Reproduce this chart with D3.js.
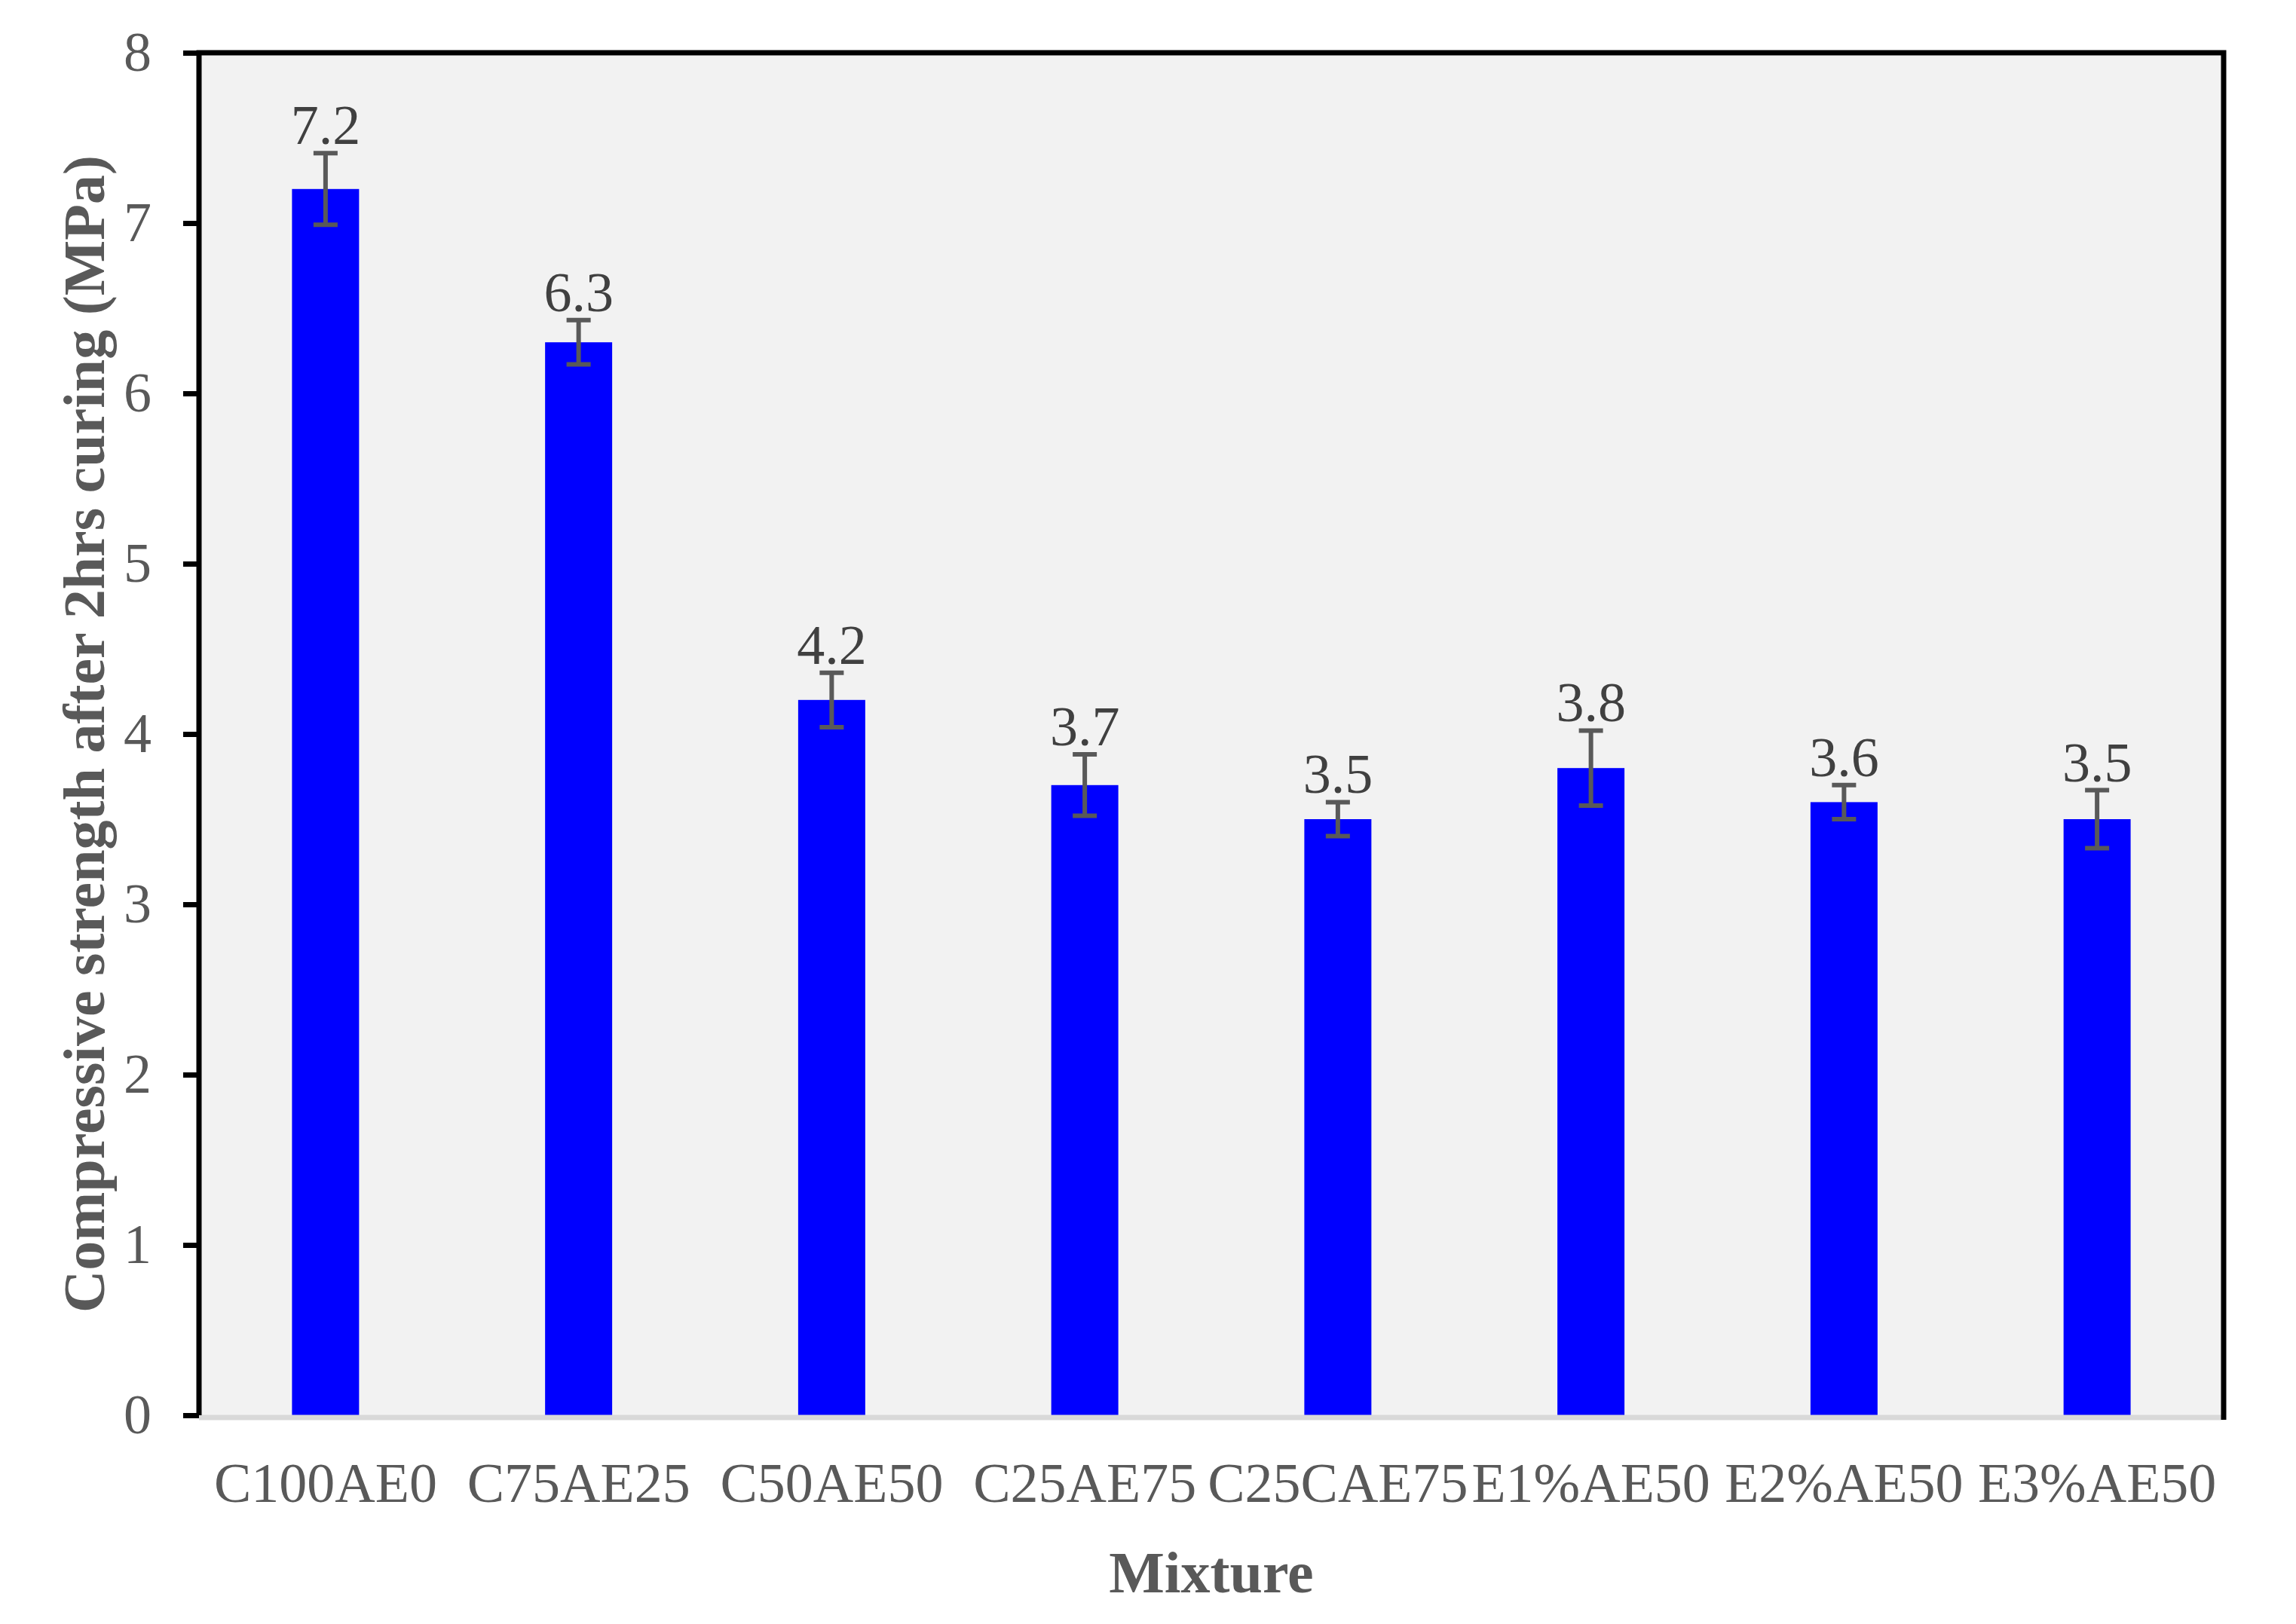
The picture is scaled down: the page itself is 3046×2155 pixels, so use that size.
<!DOCTYPE html>
<html>
<head>
<meta charset="utf-8">
<script src="https://cdn.jsdelivr.net/npm/d3@7"></script>
<style>
  body { margin: 0; background: #fff; }
  text { font-family: "Liberation Serif", "Times New Roman", serif; }
</style>
</head>
<body>
<svg id="chart" width="3046" height="2155"></svg>
<script>
var mixtures = ["C100AE0", "C75AE25", "C50AE50", "C25AE75", "C25CAE75", "E1%AE50", "E2%AE50", "E3%AE50"];
var strength = [7.2, 6.3, 4.2, 3.7, 3.5, 3.8, 3.6, 3.5];
var errors = [0.21, 0.13, 0.16, 0.18, 0.10, 0.22, 0.10, 0.17];
var yTicks = [0, 1, 2, 3, 4, 5, 6, 7, 8];

var svg = d3.select("#chart"),
    margin = {top: 70, right: 96, bottom: 277, left: 264},
    width = +svg.attr("width") - margin.left - margin.right,
    height = +svg.attr("height") - margin.top - margin.bottom,
    g = svg.append("g").attr("transform", "translate(" + margin.left + "," + margin.top + ")");

var x = d3.scaleBand().domain(mixtures).range([0, width]).paddingInner(0.735).paddingOuter(0.3675);
var y = d3.scaleLinear().domain([0, 8]).range([height, 0]);

// plot background
g.append("rect").attr("width", width).attr("height", height).attr("fill", "#f2f2f2");

// bars
g.selectAll(".bar").data(strength).enter().append("rect")
    .attr("x", function(d, i) { return x(mixtures[i]); })
    .attr("y", function(d) { return y(d); })
    .attr("width", x.bandwidth())
    .attr("height", function(d) { return height - y(d); })
    .attr("fill", "#0000ff");

// error bars
var eb = g.selectAll(".err").data(strength).enter().append("g")
    .attr("transform", function(d, i) { return "translate(" + (x(mixtures[i]) + x.bandwidth() / 2) + ",0)"; });
eb.append("line").attr("y1", function(d, i) { return y(d + errors[i]); })
    .attr("y2", function(d, i) { return y(d - errors[i]); });
eb.append("line").attr("x1", -16).attr("x2", 16)
    .attr("y1", function(d, i) { return y(d + errors[i]); }).attr("y2", function(d, i) { return y(d + errors[i]); });
eb.append("line").attr("x1", -16).attr("x2", 16)
    .attr("y1", function(d, i) { return y(d - errors[i]); }).attr("y2", function(d, i) { return y(d - errors[i]); });
eb.selectAll("line").attr("stroke", "#595959").attr("stroke-width", 6);

// value labels
eb.append("text")
    .attr("y", function(d, i) { return y(d + errors[i]) - 12; })
    .attr("text-anchor", "middle")
    .attr("font-size", 74)
    .attr("fill", "#404040")
    .text(function(d) { return d.toFixed(1); });

// bottom axis line
g.append("line").attr("x1", 0).attr("x2", width).attr("y1", height + 3).attr("y2", height + 3)
    .attr("stroke", "#d9d9d9").attr("stroke-width", 7);

// frame: left, top, right
g.append("path")
    .attr("d", "M0," + height + "V0H" + width + "V" + (height + 6))
    .attr("fill", "none").attr("stroke", "#000").attr("stroke-width", 7);

// y axis
var yAxis = g.append("g")
    .call(d3.axisLeft(y).tickValues(yTicks).tickSize(21).tickPadding(42).tickFormat(d3.format("d")));
yAxis.select(".domain").remove();
yAxis.selectAll(".tick line").attr("stroke", "#000").attr("stroke-width", 7);
yAxis.selectAll(".tick text").attr("font-size", 74).attr("fill", "#595959")
    .attr("font-family", "Liberation Serif, serif");

// x axis labels
var xAxis = g.append("g").attr("transform", "translate(0," + height + ")")
    .call(d3.axisBottom(x).tickSize(0).tickPadding(62));
xAxis.select(".domain").remove();
xAxis.selectAll(".tick text").attr("font-size", 74).attr("fill", "#595959")
    .attr("font-family", "Liberation Serif, serif");

// axis titles
svg.append("text")
    .attr("x", margin.left + width / 2).attr("y", 2113)
    .attr("text-anchor", "middle").attr("font-size", 78).attr("font-weight", "bold")
    .attr("fill", "#595959").text("Mixture");

svg.append("text")
    .attr("transform", "translate(138," + (margin.top + height / 2) + ") rotate(-90)")
    .attr("text-anchor", "middle").attr("font-size", 78).attr("font-weight", "bold")
    .attr("fill", "#595959").text("Compressive strength after 2hrs curing (MPa)");
</script>
</body>
</html>
